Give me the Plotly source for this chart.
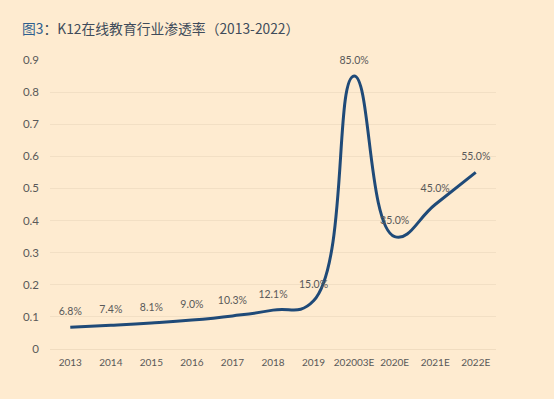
import plotly.graph_objects as go

categories = ["2013", "2014", "2015", "2016", "2017", "2018", "2019", "202003E", "2020E", "2021E", "2022E"]
penetration = [0.068, 0.074, 0.081, 0.090, 0.103, 0.121, 0.150, 0.850, 0.350, 0.450, 0.550]
label_text = [f"{v*100:.1f}%" for v in penetration]
y_ticks = [0, 0.1, 0.2, 0.3, 0.4, 0.5, 0.6, 0.7, 0.8, 0.9]
y_tick_text = ["0", "0.1", "0.2", "0.3", "0.4", "0.5", "0.6", "0.7", "0.8", "0.9"]

bg = "#FEEBD0"
fig = go.Figure()
fig.add_trace(go.Scatter(
    x=categories, y=penetration,
    mode="lines+markers+text",
    line=dict(color="#1F4A78", width=3, shape="spline", smoothing=1.3),
    marker=dict(size=14, color="rgba(0,0,0,0)"),
    text=label_text, textposition="top center",
    textfont=dict(family="Lato, Liberation Sans, sans-serif", size=10.5, color="#595959"),
    cliponaxis=False, showlegend=False, hoverinfo="skip",
))

fig.update_layout(
    width=554, height=399,
    paper_bgcolor=bg, plot_bgcolor=bg,
    margin=dict(l=50, r=58, t=60, b=50, autoexpand=False),
    title=dict(
        text="<span style='color:#2E5F8F'>图3</span>：K12在线教育行业渗透率（2013-2022）",
        font=dict(family="Noto Sans CJK SC, sans-serif", size=13.8, color="#404B5A"),
        x=22/554, xref="container", xanchor="left",
        y=1-29/399, yref="container", yanchor="middle",
        automargin=False,
    ),
    xaxis=dict(
        type="category", range=[-0.5, 10.5], showgrid=False, zeroline=False, showline=False,
        tickfont=dict(family="Lato, Liberation Sans, sans-serif", size=10, color="#595959"),
        ticks="", ticklabelstandoff=6, tickangle=0, automargin=False,
    ),
    yaxis=dict(
        range=[0, 0.9], tickvals=y_ticks, ticktext=y_tick_text,
        showgrid=True, gridcolor="#F2DFC4", gridwidth=1,
        zeroline=True, zerolinecolor="#F0DCC0", zerolinewidth=1,
        showline=False, ticks="", automargin=False,
        tickfont=dict(family="Lato, Liberation Sans, sans-serif", size=11.5, color="#595959"),
        ticklabelstandoff=10,
    ),
)
fig.write_html(
    "out.html",
    config={"displayModeBar": False},
    post_script="document.body.style.margin='0';document.body.style.background='#FEEBD0';",
)
